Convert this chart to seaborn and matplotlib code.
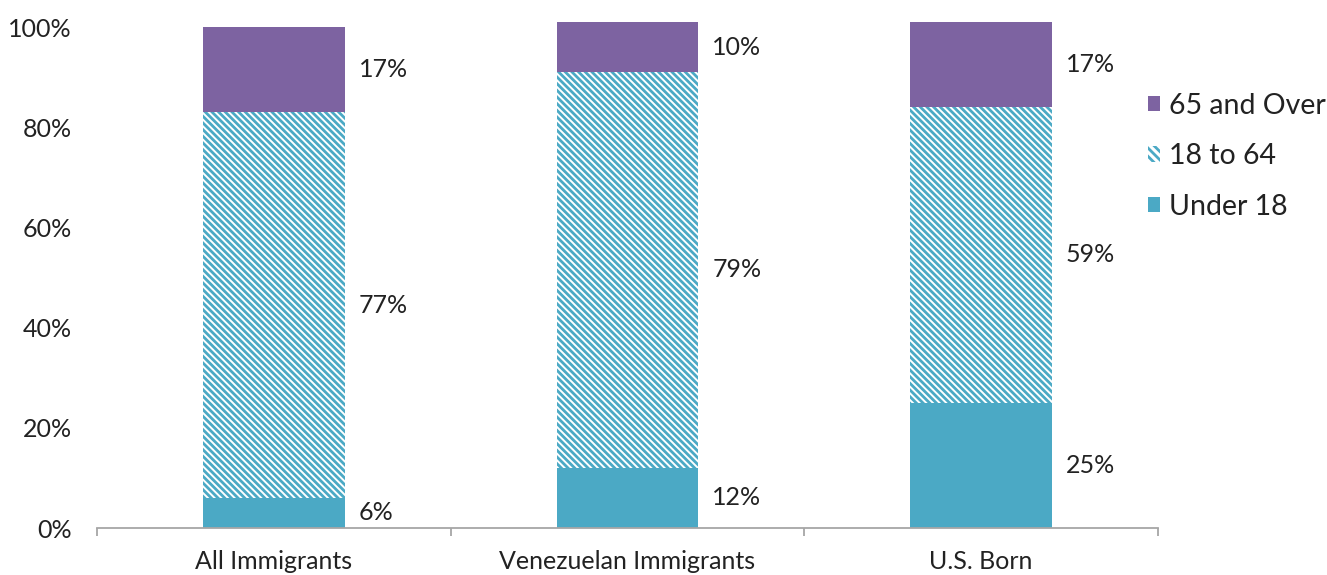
import numpy as np
import pandas as pd
import matplotlib
matplotlib.use("Agg")
import matplotlib.pyplot as plt
from matplotlib.patches import Patch
from matplotlib.ticker import FixedLocator
import seaborn as sns

# Age distribution by group (percent)
groups = ["All Immigrants", "Venezuelan Immigrants", "U.S. Born"]
under_18 = [6, 12, 25]
age_18_64 = [77, 79, 59]
over_65 = [17, 10, 17]
y_ticks = [0, 20, 40, 60, 80, 100]

PURPLE = "#7D63A1"
TEAL = "#4BA9C5"
TEXT = "#222222"
FS = 18

sns.set_theme(style="white")
plt.rcParams["font.family"] = ["Lato", "DejaVu Sans"]
plt.rcParams["hatch.linewidth"] = 2.0

df = pd.DataFrame({"group": groups, "u18": under_18, "mid": age_18_64, "old": over_65})
df["top_mid"] = df["u18"] + df["mid"]
df["top_old"] = df["top_mid"] + df["old"]

fig = plt.figure(figsize=(13.27, 5.75), dpi=100)
ax = fig.add_axes([97 / 1327, 1 - 528 / 575, (1158 - 97) / 1327, 511 / 575])

# Stacked bars: draw cumulative totals from the top layer down
sns.barplot(data=df, x="group", y="top_old", color=PURPLE, width=0.4,
            saturation=1, linewidth=0, ax=ax)
sns.barplot(data=df, x="group", y="top_mid", color="white", width=0.4,
            saturation=1, linewidth=0, edgecolor=TEAL, hatch="\\\\\\\\\\", ax=ax)
sns.barplot(data=df, x="group", y="u18", color=TEAL, width=0.4,
            saturation=1, linewidth=0, ax=ax)

# Value labels beside each segment
for i, row in df.iterrows():
    segs = [(0, row["u18"]), (row["u18"], row["mid"]), (row["top_mid"], row["old"])]
    for base, val in segs:
        ax.text(i + 0.24, base + val / 2, f"{val:d}%", ha="left", va="center",
                fontsize=FS, color=TEXT)

ax.set_xlim(-0.5, 2.5)
ax.set_ylim(0, 102)
ax.set_yticks(y_ticks)
ax.set_yticklabels([f"{t}%" for t in y_ticks])
ax.set_xlabel("")
ax.set_ylabel("")

for side in ["left", "right", "top"]:
    ax.spines[side].set_visible(False)
ax.spines["bottom"].set_color("#a6a6a6")
ax.spines["bottom"].set_linewidth(1.3)

ax.tick_params(axis="y", length=0, pad=18, labelsize=FS, labelcolor=TEXT)
ax.tick_params(axis="x", which="major", length=0, pad=16, labelsize=FS, labelcolor=TEXT)
ax.xaxis.set_minor_locator(FixedLocator([-0.5, 0.5, 1.5, 2.5]))
ax.tick_params(axis="x", which="minor", length=6, width=1.3, color="#a6a6a6", bottom=True)

handles = [
    Patch(facecolor=PURPLE, edgecolor="none", label="65 and Over"),
    Patch(facecolor="white", edgecolor=TEAL, linewidth=0, hatch="\\\\\\\\", label="18 to 64"),
    Patch(facecolor=TEAL, edgecolor="none", label="Under 18"),
]
fig.legend(handles=handles, loc="upper left", bbox_to_anchor=(1122 / 1327, 1 - 67 / 575),
           frameon=False, fontsize=20.5, handlelength=0.45, handleheight=0.45,
           handletextpad=0.3, labelspacing=0.86, labelcolor=TEXT)

fig.savefig("out.png", dpi=100)
